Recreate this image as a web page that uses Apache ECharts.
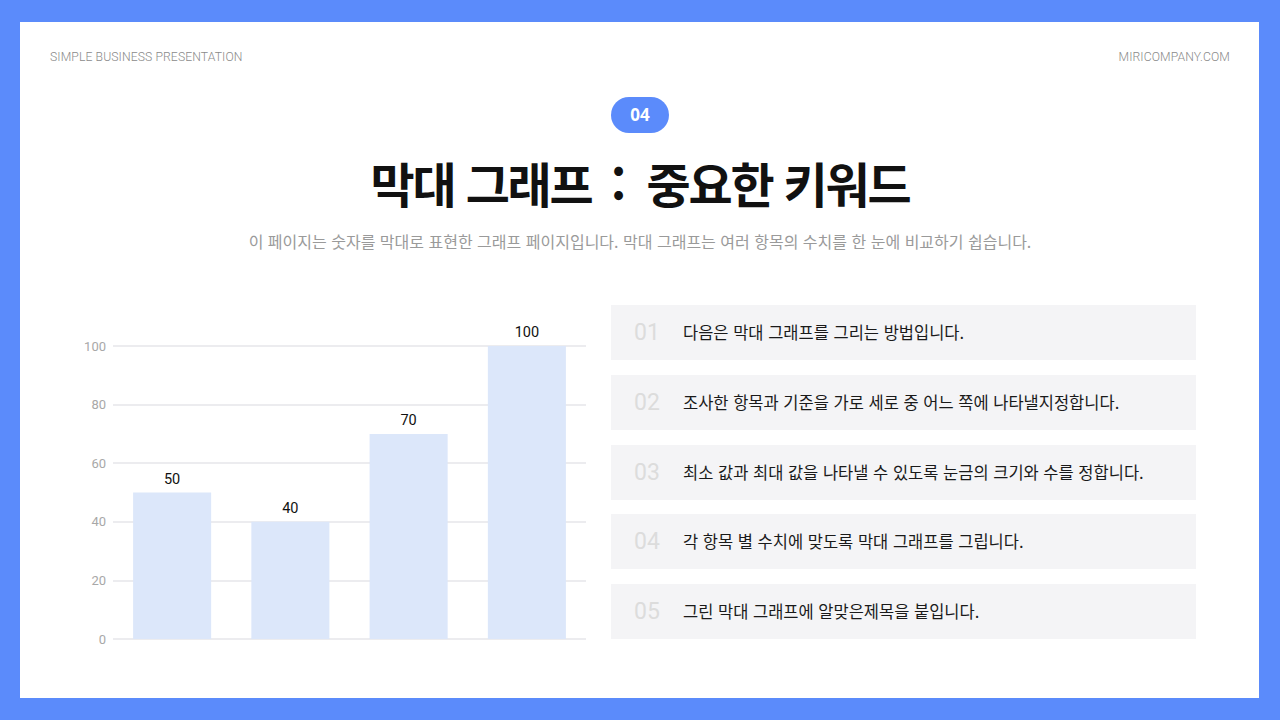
<!DOCTYPE html>
<html lang="ko">
<head>
<meta charset="utf-8">
<script src="https://cdn.jsdelivr.net/npm/echarts@6/dist/echarts.min.js"></script>
<style>
  html, body { margin: 0; padding: 0; }
  body { width: 1280px; height: 720px; background: #5B8BFB; position: relative; overflow: hidden;
         font-family: "Noto Sans CJK KR", "Noto Sans", sans-serif; }
  #panel { position: absolute; left: 20px; top: 22px; width: 1239px; height: 676px; background: #fff; }
  .hdr { position: absolute; top: 50px; font-family: Roboto, "Noto Sans", sans-serif; font-weight: 300;
         font-size: 12.2px; color: #8a8a8a; letter-spacing: 0.1px; }
  #badge { position: absolute; left: 611px; top: 97px; width: 58px; height: 36px; border-radius: 18px;
           background: #5B8BFB; color: #fff; font-weight: 700; font-size: 17px; line-height: 36px; text-align: center;
           font-family: "Noto Sans", sans-serif; }
  #title { position: absolute; left: 0; width: 1280px; top: 148px; text-align: center; font-weight: 700;
           font-size: 48px; line-height: 68px; color: #111; letter-spacing: -2.2px; }
  #title .colon { margin: 0 11px 0 8px; }
  #sub { position: absolute; left: 0; width: 1280px; top: 229px; text-align: center; font-size: 16px;
         line-height: 24px; color: #9a9a9a; letter-spacing: 0px; }
  #chart { position: absolute; left: 60px; top: 300px; width: 540px; height: 360px; }
  .item { position: absolute; left: 611px; width: 585px; height: 55px; background: #F4F4F6; }
  .item .num { position: absolute; left: 23px; top: 0; line-height: 55px; font-size: 23px; color: #dcdcdc;
               font-family: Roboto, "Noto Sans", sans-serif; font-weight: 400; }
  .item .txt { position: absolute; left: 72px; top: 0; line-height: 55px; font-size: 16.5px; color: #1a1a1a;
               letter-spacing: 0px; }
</style>
</head>
<body>
<div id="panel"></div>
<div class="hdr" style="left:50px;">SIMPLE BUSINESS PRESENTATION</div>
<div class="hdr" style="right:50px;">MIRICOMPANY.COM</div>
<div id="badge">04</div>
<div id="title">막대 그래프 <span class="colon">:</span> 중요한 키워드</div>
<div id="sub">이 페이지는 숫자를 막대로 표현한 그래프 페이지입니다. 막대 그래프는 여러 항목의 수치를 한 눈에 비교하기 쉽습니다.</div>
<div id="chart"></div>
<div id="list"></div>
<script>
const categories = ["항목 1", "항목 2", "항목 3", "항목 4"];
const values = [50, 40, 70, 100];
const yTicks = [0, 20, 40, 60, 80, 100];
const stepNums = ["01", "02", "03", "04", "05"];
const stepTexts = [
  "다음은 막대 그래프를 그리는 방법입니다.",
  "조사한 항목과 기준을 가로 세로 중 어느 쪽에 나타낼지정합니다.",
  "최소 값과 최대 값을 나타낼 수 있도록 눈금의 크기와 수를 정합니다.",
  "각 항목 별 수치에 맞도록 막대 그래프를 그립니다.",
  "그린 막대 그래프에 알맞은제목을 붙입니다."
];

const itemTops = [305, 375, 445, 514, 584];
const list = document.getElementById('list');
stepNums.forEach((n, i) => {
  const d = document.createElement('div');
  d.className = 'item';
  d.style.top = itemTops[i] + 'px';
  d.innerHTML = '<span class="num">' + n + '</span><span class="txt">' + stepTexts[i] + '</span>';
  list.appendChild(d);
});

const chart = echarts.init(document.getElementById('chart'), null, { renderer: 'svg' });
chart.setOption({
  animation: false,
  grid: { left: 53, width: 473, top: 46, height: 293 },
  xAxis: {
    type: 'category', data: categories,
    axisLine: { show: false }, axisTick: { show: false }, axisLabel: { show: false }
  },
  yAxis: {
    type: 'value', min: yTicks[0], max: yTicks[yTicks.length - 1], interval: yTicks[1] - yTicks[0],
    axisLine: { show: false }, axisTick: { show: false },
    axisLabel: { color: '#a8a8a8', fontSize: 13, margin: 7, fontFamily: 'Roboto, "Noto Sans", sans-serif' },
    splitLine: { lineStyle: { color: '#e6e6ea', width: 1.5 } }
  },
  series: [{
    type: 'bar', data: values, barWidth: '66%',
    itemStyle: { color: '#DCE7FA' },
    label: { show: true, position: 'top', color: '#111', fontSize: 14.5, distance: 6,
             fontFamily: 'Roboto, "Noto Sans", sans-serif' }
  }]
});
</script>
</body>
</html>
